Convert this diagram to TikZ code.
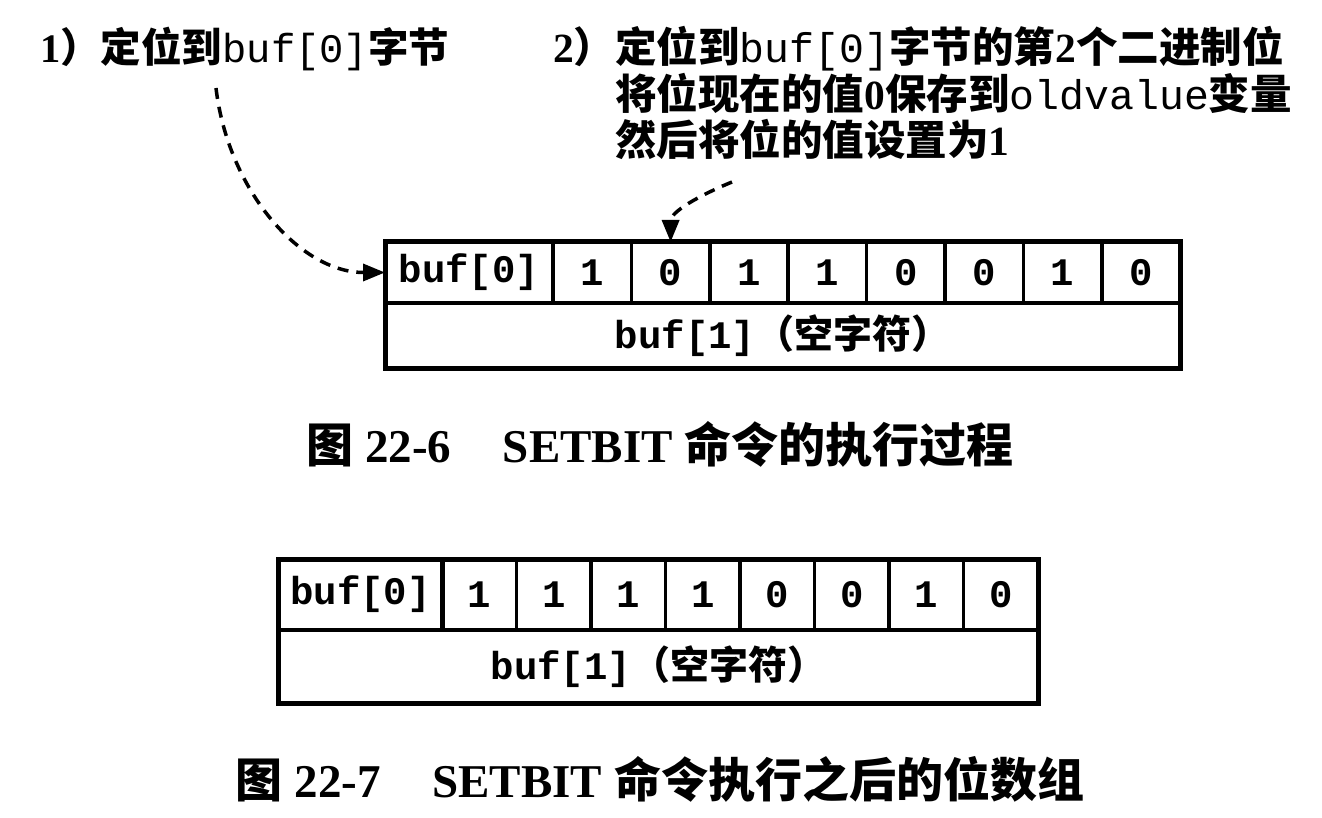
\documentclass[tikz,border=0pt]{standalone}
\usepackage{fontspec}
\setmainfont{Liberation Serif}
\setmonofont{Liberation Mono}
\newfontfamily\zhfont{Noto Sans CJK SC}
\usetikzlibrary{arrows.meta}

\newcommand\zh[1]{{\zhfont\bfseries#1}}

\begin{document}
\begin{tikzpicture}[x=1pt,y=-1pt,
  cell/.style={draw,line width=3.5pt,inner sep=0pt,outer sep=0pt,font=\fontsize{39}{47}\selectfont\ttfamily\bfseries},
  bitA/.style={cell,minimum width=78.4pt,minimum height=61pt},
  bitB/.style={cell,minimum width=74.5pt,minimum height=71pt},
  frame/.style={line width=5pt},
  note/.style={inner sep=0pt,font=\fontsize{40.5}{46.5}\selectfont},
  caption/.style={inner sep=0pt,font=\fontsize{47}{56}\selectfont\bfseries},
  flow/.style={dash pattern=on 11pt off 8pt,line width=3.5pt,-{Triangle[length=22pt,width=17pt]}}]
\useasboundingbox (0,0) rectangle (1322,818);

\node[note,anchor=base west] (step1) at (40,63) {\textbf{1}\zh{）定位到}\texttt{buf[0]}\zh{字节}};
\node[note,font=\fontsize{41.5}{46.5}\selectfont,anchor=base west,align=left] (step2) at (553,156) {\textbf{2}\zh{）定位到}\texttt{buf[0]}\zh{字节的第}\textbf{2}\zh{个二进制位}\\
\phantom{\textbf{2}\zh{）}}\zh{将位现在的值}\textbf{0}\zh{保存到}\texttt{oldvalue}\zh{变量}\\
\phantom{\textbf{2}\zh{）}}\zh{然后将位的值设置为}\textbf{1}};

\node[cell,minimum width=168pt,minimum height=61pt] (p0) at (469,272.5) {buf[0]};
\node[bitA] (p1) at (592.2,272.5) {1};
\node[bitA] (p2) at (670.6,272.5) {0};
\node[bitA] (p3) at (749.0,272.5) {1};
\node[bitA] (p4) at (827.4,272.5) {1};
\node[bitA] (p5) at (905.8,272.5) {0};
\node[bitA] (p6) at (984.2,272.5) {0};
\node[bitA] (p7) at (1062.6,272.5) {1};
\node[bitA] (p8) at (1141.0,272.5) {0};
\node[cell,minimum width=795pt,minimum height=65pt] (p9) at (782.6,335.5) {buf[1]\zh{（空字符）}};
\draw[frame] (p0.north west) rectangle (p9.south east);

\coordinate (s1) at (216,88);
\coordinate (s2) at (732,182);
\draw[flow] (s1) .. controls (228,190) and (300,272.5) .. (p0.west);
\draw[flow] (s2) .. controls (698,196) and (670.6,212) .. (p2.north);

\node[caption] (cap1) at (660,444) {\zh{图} 22-6\hspace{1.1em}SETBIT \zh{命令的执行过程}};

\node[cell,minimum width=165pt,minimum height=71pt] (q0) at (360.5,594.5) {buf[0]};
\node[bitB] (q1) at (479.3,594.5) {1};
\node[bitB] (q2) at (553.8,594.5) {1};
\node[bitB] (q3) at (628.3,594.5) {1};
\node[bitB] (q4) at (702.8,594.5) {1};
\node[bitB] (q5) at (777.3,594.5) {0};
\node[bitB] (q6) at (851.8,594.5) {0};
\node[bitB] (q7) at (926.3,594.5) {1};
\node[bitB] (q8) at (1000.8,594.5) {0};
\node[cell,minimum width=759pt,minimum height=73pt] (q9) at (658.5,666.5) {buf[1]\zh{（空字符）}};
\draw[frame] (q0.north west) rectangle (q9.south east);

\node[caption] (cap2) at (660,779) {\zh{图} 22-7\hspace{1.1em}SETBIT \zh{命令执行之后的位数组}};
\end{tikzpicture}
\end{document}
